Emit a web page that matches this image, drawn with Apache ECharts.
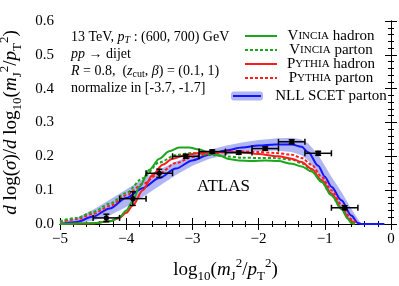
<!DOCTYPE html>
<html><head><meta charset="utf-8">
<script src="https://cdn.jsdelivr.net/npm/echarts@6/dist/echarts.min.js"></script>
<style>html,body{margin:0;padding:0;background:#fff}#c{width:399px;height:286px}</style>
</head><body><div id="c"></div>
<script>
const SERIF = '"Liberation Serif","DejaVu Serif",serif';

// NLL SCET parton (central) and band
const bandX  = [-5,-4.75,-4.5,-4.25,-4,-3.75,-3.5,-3.25,-3,-2.75,-2.5,-2.25,-2,-1.75,-1.5,-1.35,-1.25,-1.1,-1,-0.9,-0.75,-0.6,-0.5,-0.45];
const bandLo = [0,0.002,0.01,0.025,0.05,0.08,0.112,0.145,0.172,0.192,0.204,0.212,0.216,0.217,0.213,0.203,0.188,0.148,0.115,0.085,0.048,0.01,0,0];
const bandHi = [0.005,0.018,0.042,0.072,0.102,0.132,0.16,0.184,0.204,0.219,0.231,0.241,0.248,0.253,0.255,0.25,0.238,0.205,0.172,0.14,0.095,0.045,0.015,0];
const nllX = [-5,-4.75,-4.5,-4.25,-4,-3.75,-3.5,-3.25,-3,-2.75,-2.5,-2.25,-2,-1.75,-1.5,-1.35,-1.25,-1.1,-1,-0.9,-0.75,-0.6,-0.5,-0.45,-0.1];
const nllY = [0,0.006,0.022,0.046,0.077,0.106,0.136,0.164,0.188,0.205,0.217,0.226,0.232,0.235,0.235,0.228,0.212,0.172,0.14,0.11,0.07,0.025,0.003,0,0];

// Vincia hadron / parton
const vhX = [-5,-4.5,-4.25,-4.1,-4,-3.9,-3.8,-3.65,-3.5,-3.35,-3.2,-3.05,-2.9,-2.75,-2.6,-2.45,-2.3,-2.1,-1.9,-1.7,-1.5,-1.35,-1.2,-1.05,-0.9,-0.75,-0.65,-0.6,-0.55];
const vhY = [0,0.002,0.008,0.02,0.04,0.068,0.11,0.16,0.193,0.215,0.226,0.226,0.22,0.212,0.203,0.192,0.188,0.186,0.188,0.186,0.178,0.17,0.155,0.125,0.085,0.045,0.015,0.003,0];
const vpX = [-5,-4.75,-4.5,-4.25,-4,-3.75,-3.5,-3.25,-3,-2.75,-2.5,-2.25,-2,-1.75,-1.5,-1.35,-1.2,-1.05,-0.9,-0.75,-0.62,-0.55];
const vpY = [0.008,0.018,0.036,0.06,0.092,0.135,0.182,0.204,0.21,0.205,0.2,0.196,0.195,0.195,0.19,0.18,0.16,0.125,0.085,0.045,0.01,0];

// Pythia hadron / parton
const phX = [-5,-4.5,-4.25,-4.1,-4,-3.9,-3.75,-3.6,-3.45,-3.3,-3.1,-2.9,-2.6,-2.3,-2,-1.7,-1.5,-1.35,-1.2,-1.05,-0.9,-0.75,-0.62,-0.56];
const phY = [0,0.002,0.008,0.018,0.033,0.055,0.1,0.145,0.175,0.193,0.204,0.21,0.213,0.212,0.207,0.2,0.193,0.183,0.163,0.13,0.09,0.048,0.012,0];
const ppX = [-5,-4.75,-4.5,-4.25,-4,-3.75,-3.5,-3.25,-3,-2.75,-2.5,-2.25,-2,-1.75,-1.5,-1.35,-1.2,-1.05,-0.9,-0.75,-0.6,-0.52];
const ppY = [0.006,0.014,0.03,0.053,0.085,0.118,0.15,0.18,0.198,0.207,0.212,0.214,0.213,0.21,0.205,0.195,0.175,0.14,0.1,0.058,0.015,0];

// ATLAS data
const dataX   = [-4.3,-3.9,-3.5,-3.1,-2.7,-2.3,-1.9,-1.5,-1.1,-0.7];
const dataXlo = [-4.5,-4.1,-3.7,-3.3,-2.9,-2.5,-2.1,-1.7,-1.3,-0.9];
const dataXhi = [-4.1,-3.7,-3.3,-2.9,-2.5,-2.1,-1.7,-1.3,-0.9,-0.5];
const dataY   = [0.018,0.075,0.15,0.2,0.214,0.211,0.223,0.243,0.209,0.048];
const dataErr = [0.011,0.02,0.012,0.006,0.005,0.005,0.005,0.006,0.006,0.006];

const xTickMin = -5, xTickMax = 0, xStep = 1;
const yTickMin = 0, yTickMax = 0.6, yStep = 0.1;

const GREEN = '#1ea51e', RED = '#ff1c1c', BLUE = '#1414ff', BAND = '#b0b6f4';
const zip = (xs, ys) => xs.map((x, i) => [x, ys[i]]);

const chart = echarts.init(document.getElementById('c'), null, {renderer: 'canvas'});

function axisCommon() {
  return {
    axisLine: {show: true, lineStyle: {color: '#000', width: 1}},
    axisTick: {show: true, inside: true, length: 6, lineStyle: {color: '#000', width: 1}},
    minorTick: {show: true, splitNumber: 5, length: 3, lineStyle: {color: '#000', width: 1}},
    splitLine: {show: false}, minorSplitLine: {show: false}
  };
}
const titleRich = {
  s: {fontFamily: SERIF, fontSize: 13, verticalAlign: 'bottom', lineHeight: 12, color: '#000'},
  p: {fontFamily: SERIF, fontSize: 13, verticalAlign: 'top', lineHeight: 12, color: '#000'},
  i: {fontFamily: SERIF, fontSize: 19, fontStyle: 'italic', lineHeight: 26, color: '#000'}
};

const option = {
  animation: false,
  backgroundColor: '#fff',
  grid: {left: 60, right: 8, top: 21, bottom: 62, containLabel: false, outerBoundsMode: 'none'},
  xAxis: [
    Object.assign({
      type: 'value', min: xTickMin, max: xTickMax, interval: xStep, position: 'bottom',
      axisLabel: {fontFamily: SERIF, fontSize: 15, color: '#000', margin: 8,
        formatter: v => (v < 0 ? '\u2212' + (-v) : '' + v)},
      name: 'log{s|10}({i|m}{s|J}{p|2}/{i|p}{s|T}{p|2})',
      nameLocation: 'middle', nameGap: 33,
      nameTextStyle: {fontFamily: SERIF, fontSize: 19, color: '#000', lineHeight: 26, rich: titleRich}
    }, axisCommon()),
    Object.assign({
      type: 'value', min: xTickMin, max: xTickMax, interval: xStep, position: 'top',
      axisLabel: {show: false}
    }, axisCommon())
  ],
  yAxis: [
    Object.assign({
      type: 'value', min: yTickMin, max: yTickMax, interval: yStep, position: 'left',
      axisLabel: {fontFamily: SERIF, fontSize: 15, color: '#000', margin: 6,
        formatter: v => v.toFixed(1)},
      name: '{i|d} log({i|σ})/{i|d} log{s|10}({i|m}{s|J}{p|2}/{i|p}{s|T}{p|2})',
      nameLocation: 'middle', nameGap: 33,
      nameTextStyle: {fontFamily: SERIF, fontSize: 19, color: '#000', lineHeight: 26, rich: titleRich}
    }, axisCommon()),
    Object.assign({
      type: 'value', min: yTickMin, max: yTickMax, interval: yStep, position: 'right',
      axisLabel: {show: false}
    }, axisCommon())
  ],
  series: [
    {
      name: 'band', type: 'custom', silent: true, z: 1,
      data: [[-2.5, 0.2]],
      renderItem: function (params, api) {
        const pts = [];
        for (let i = 0; i < bandX.length; i++) pts.push(api.coord([bandX[i], bandHi[i]]));
        for (let i = bandX.length - 1; i >= 0; i--) pts.push(api.coord([bandX[i], bandLo[i]]));
        return {type: 'polygon', shape: {points: pts}, style: {fill: BAND, stroke: null}};
      }
    },
    {name: 'NLL SCET parton', type: 'line', data: zip(nllX, nllY), showSymbol: false, smooth: 0.3, smoothMonotone: 'x',
      lineStyle: {color: BLUE, width: 2}, z: 3},
    {name: 'Pythia parton', type: 'line', data: zip(ppX, ppY), showSymbol: false, smooth: 0.3, smoothMonotone: 'x',
      lineStyle: {color: RED, width: 2, type: [3, 2]}, z: 4},
    {name: 'Vincia parton', type: 'line', data: zip(vpX, vpY), showSymbol: false, smooth: 0.3, smoothMonotone: 'x',
      lineStyle: {color: GREEN, width: 2, type: [3, 2]}, z: 4},
    {name: 'Pythia hadron', type: 'line', data: zip(phX, phY), showSymbol: false, smooth: 0.3, smoothMonotone: 'x',
      lineStyle: {color: RED, width: 2}, z: 5},
    {name: 'Vincia hadron', type: 'line', data: zip(vhX, vhY), showSymbol: false, smooth: 0.3, smoothMonotone: 'x',
      lineStyle: {color: GREEN, width: 2}, z: 5},
    {
      name: 'ATLAS', type: 'custom', z: 10,
      data: dataX.map((x, i) => [x, dataY[i], dataXlo[i], dataXhi[i], dataErr[i]]),
      renderItem: function (params, api) {
        const x = api.value(0), y = api.value(1), xl = api.value(2), xh = api.value(3), e = api.value(4);
        const c = api.coord([x, y]), l = api.coord([xl, y]), h = api.coord([xh, y]);
        const t = api.coord([x, y + e]), b = api.coord([x, y - e]);
        const st = {stroke: '#000', lineWidth: 1.5};
        const cap = 3;
        return {type: 'group', children: [
          {type: 'line', shape: {x1: l[0], y1: l[1], x2: h[0], y2: h[1]}, style: st},
          {type: 'line', shape: {x1: l[0], y1: l[1] - cap, x2: l[0], y2: l[1] + cap}, style: st},
          {type: 'line', shape: {x1: h[0], y1: h[1] - cap, x2: h[0], y2: h[1] + cap}, style: st},
          {type: 'line', shape: {x1: t[0], y1: t[1], x2: b[0], y2: b[1]}, style: st},
          {type: 'line', shape: {x1: t[0] - cap, y1: t[1], x2: t[0] + cap, y2: t[1]}, style: st},
          {type: 'line', shape: {x1: b[0] - cap, y1: b[1], x2: b[0] + cap, y2: b[1]}, style: st},
          {type: 'circle', shape: {cx: c[0], cy: c[1], r: 2.6}, style: {fill: '#000'}}
        ]};
      }
    }
  ],
  graphic: []
};

// annotation text (top-left)
const annRich = {
  n: {fontFamily: SERIF, fontSize: 14, color: '#000', lineHeight: 17},
  i: {fontFamily: SERIF, fontSize: 14, fontStyle: 'italic', color: '#000', lineHeight: 17},
  s: {fontFamily: SERIF, fontSize: 10, color: '#000', verticalAlign: 'bottom', lineHeight: 9},
  si: {fontFamily: SERIF, fontSize: 10, fontStyle: 'italic', color: '#000', verticalAlign: 'bottom', lineHeight: 9}
};
const annLines = [
  '{n|13 TeV, }{i|p}{si|T}{n| : (600, 700) GeV}',
  '{i|pp}{n| → dijet}',
  '{i|R}{n| = 0.8,  (}{i|z}{s|cut}{n|, }{i|β}{n|) = (0.1, 1)}',
  '{n|normalize in [-3.7, -1.7]}'
];
const annY = [37, 54, 71, 88];
annLines.forEach((t, k) => option.graphic.push({
  type: 'text', x: 71, y: annY[k], z: 20,
  style: {text: t, rich: annRich, fill: '#000', font: '14px ' + SERIF, verticalAlign: 'middle'}
}));

// ATLAS label
option.graphic.push({type: 'text', x: 197, y: 187, z: 20,
  style: {text: 'ATLAS', fill: '#000', font: '17px ' + SERIF, verticalAlign: 'middle'}});

// legend
const legRich = {
  b: {fontFamily: SERIF, fontSize: 15, color: '#000'},
  c: {fontFamily: SERIF, fontSize: 11, color: '#000'}
};
const legendItems = [
  {text: '{b|V}{c|INCIA}{b| hadron}', color: GREEN, dash: null, y: 36},
  {text: '{b|V}{c|INCIA}{b| parton}', color: GREEN, dash: [3, 2], y: 50},
  {text: '{b|P}{c|YTHIA}{b| hadron}', color: RED, dash: null, y: 64},
  {text: '{b|P}{c|YTHIA}{b| parton}', color: RED, dash: [3, 2], y: 78},
  {text: '{b|NLL SCET parton}', color: BLUE, dash: null, y: 96, band: true}
];
legendItems.forEach(it => {
  if (it.band) {
    option.graphic.push({type: 'rect', z: 20, shape: {x: 231, y: it.y - 4.5, width: 32, height: 9, r: 3}, style: {fill: BAND}});
  }
  option.graphic.push({type: 'line', z: 21,
    shape: {x1: it.band ? 233 : 245, y1: it.y, x2: it.band ? 261 : 277, y2: it.y},
    style: {stroke: it.color, lineWidth: 2, lineDash: it.dash}});
  option.graphic.push({type: 'text', z: 21, x: 331, y: it.y,
    style: {text: it.text, rich: legRich, align: 'center', verticalAlign: 'middle', fill: '#000', font: '15px ' + SERIF}});
});

chart.setOption(option);
</script>
</body></html>
